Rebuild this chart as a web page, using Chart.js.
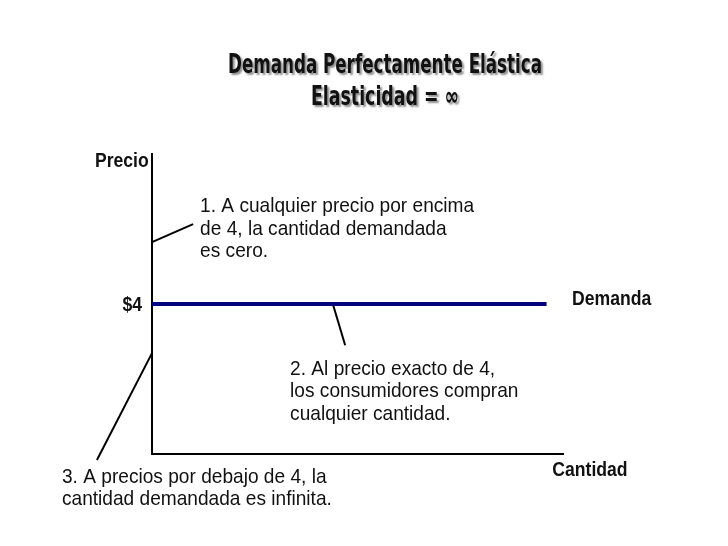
<!DOCTYPE html>
<html>
<head>
<meta charset="utf-8">
<script src="https://cdn.jsdelivr.net/npm/chart.js@4"></script>
<style>
  body { margin: 0; background: #fff; }
</style>
</head>
<body>
<canvas id="demandChart" width="728" height="546"></canvas>
<script>
// title lines
const titleLines = ['Demanda Perfectamente Elástica', 'Elasticidad = \u221E'];

// demand curve: price fixed at 4
const demandPrice = 4;
const demandQty = [0, 9.6];

// leader lines from the notes to the chart (data units)
const leader1 = [{x: 0, y: 5.65}, {x: 1.0, y: 6.13}];
const leader2 = [{x: 4.4, y: 4.0}, {x: 4.7, y: 2.9}];
const leader3 = [{x: 0, y: 2.69}, {x: -1.34, y: -0.16}];

// notes: anchor in data units, text lines
const notes = [
    {x: 1.17, y: 6.45, lines: ['1. A cualquier precio por encima', 'de 4, la cantidad demandada', 'es cero.']},
    {x: 3.36, y: 2.11, lines: ['2. Al precio exacto de 4,', 'los consumidores compran', 'cualquier cantidad.']},
    {x: -2.19, y: -0.77, lines: ['3. A precios por debajo de 4, la', 'cantidad demandada es infinita.']}
];

// bold axis labels
const axisLabels = [
    {text: 'Precio', x: -0.08, y: 7.65, align: 'right'},
    {text: '$4', x: -0.24, y: 3.81, align: 'right'},
    {text: 'Demanda', x: 10.22, y: 3.97, align: 'left'},
    {text: 'Cantidad', x: 9.74, y: -0.59, align: 'left'}
];

function drawText(ctx, str, x, y, font, sx, align) {
    ctx.save();
    ctx.font = font;
    ctx.textAlign = align;
    ctx.textBaseline = 'alphabetic';
    ctx.translate(x, y);
    ctx.scale(sx, 1);
    ctx.fillText(str, 0, 0);
    ctx.restore();
}

const textPlugin = {
    id: 'textPlugin',
    afterDraw(chart) {
        const ctx = chart.ctx;
        const xs = chart.scales.x;
        const ys = chart.scales.y;
        ctx.fillStyle = '#111';

        // title with shadow, squeezed to the width of the original
        const titleWidths = [314, 148];
        const titleBase = [73, 105];
        titleLines.forEach((t, i) => {
            ctx.save();
            ctx.font = 'bold 26px "Liberation Sans Narrow", "DejaVu Sans Condensed", sans-serif';
            const w = ctx.measureText(t).width;
            ctx.shadowColor = 'rgba(0,0,0,0.45)';
            ctx.shadowOffsetX = 2;
            ctx.shadowOffsetY = 2;
            ctx.shadowBlur = 2;
            drawText(ctx, t, 385, titleBase[i], ctx.font, titleWidths[i] / w, 'center');
            ctx.restore();
        });

        notes.forEach(n => {
            const px = xs.getPixelForValue(n.x);
            const py = ys.getPixelForValue(n.y);
            n.lines.forEach((l, i) => {
                drawText(ctx, l, px, py + i * 22.5, '21px "Liberation Sans", Arial, sans-serif', 0.91, 'left');
            });
        });

        axisLabels.forEach(a => {
            drawText(ctx, a.text, xs.getPixelForValue(a.x), ys.getPixelForValue(a.y),
                'bold 20px "Liberation Sans", Arial, sans-serif', 0.88, a.align);
        });
    }
};

const leaderStyle = {
    showLine: true,
    borderColor: '#000',
    borderWidth: 2,
    pointRadius: 0,
    clip: false
};

const ctx = document.getElementById('demandChart').getContext('2d');
new Chart(ctx, {
    type: 'scatter',
    data: {
        datasets: [
            {
                label: 'Demanda',
                data: demandQty.map(q => ({x: q, y: demandPrice})),
                showLine: true,
                borderColor: '#000080',
                borderWidth: 4,
                pointRadius: 0
            },
            Object.assign({label: 'l1', data: leader1}, leaderStyle),
            Object.assign({label: 'l2', data: leader2}, leaderStyle),
            Object.assign({label: 'l3', data: leader3}, leaderStyle)
        ]
    },
    options: {
        responsive: false,
        animation: false,
        layout: {
            padding: {left: 152, right: 165, top: 154, bottom: 92}
        },
        plugins: {
            legend: {display: false},
            tooltip: {enabled: false}
        },
        scales: {
            x: {
                type: 'linear',
                min: 0,
                max: 10,
                grid: {display: false},
                ticks: {display: false},
                border: {display: true, color: '#000', width: 2},
                afterFit: s => { s.height = 0; }
            },
            y: {
                type: 'linear',
                min: 0,
                max: 8,
                grid: {display: false},
                ticks: {display: false},
                border: {display: true, color: '#000', width: 2},
                afterFit: s => { s.width = 0; }
            }
        }
    },
    plugins: [textPlugin]
});
</script>
</body>
</html>
